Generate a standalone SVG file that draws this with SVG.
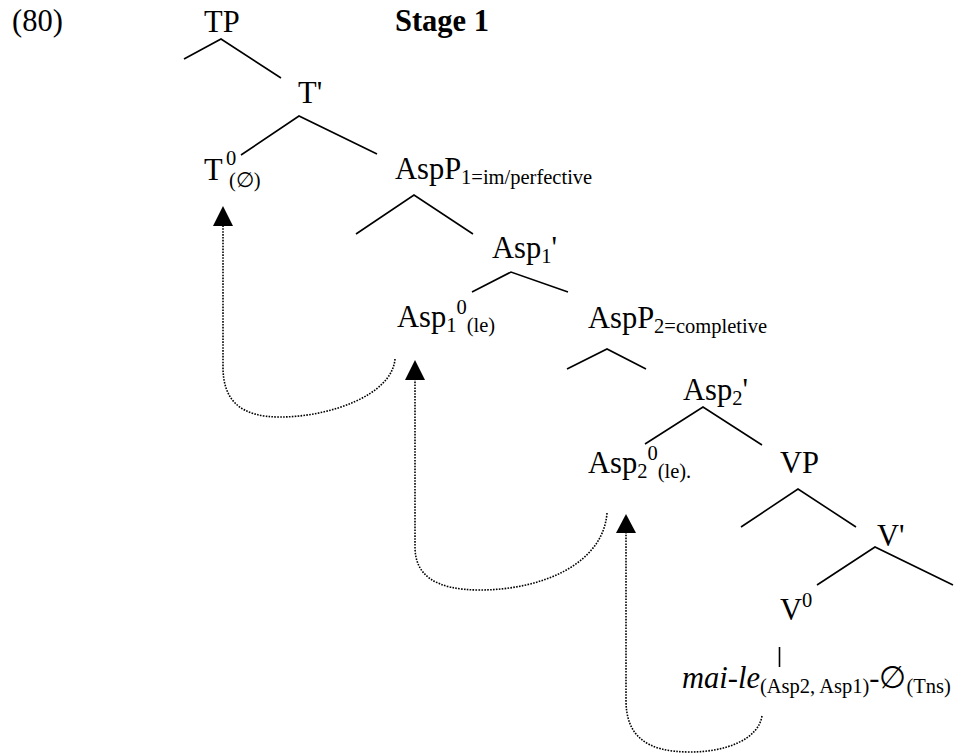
<svg xmlns="http://www.w3.org/2000/svg" width="969" height="754" viewBox="0 0 969 754">
  <style>
    text { font-family: "Liberation Serif", "Times New Roman", serif; font-size: 30.5px; fill: #000; }
    .b { font-weight: bold; }
    .it { font-style: italic; }
    .s { font-size: 20.5px; }
    .branch { fill: none; stroke: #000; stroke-width: 1.6; }
    .move { fill: none; stroke: #000; stroke-width: 1.6; stroke-dasharray: 1.6 1.3; }
    .head { fill: #000; }
  </style>
  <rect width="969" height="754" fill="#fff"/>

  <g id="example-number"><text x="12" y="31">(80)</text></g>
  <g id="title"><text class="b" x="395" y="31">Stage 1</text></g>

  <g id="TP"><text x="204" y="32">TP</text></g>
  <g id="T-bar"><text x="298" y="103">T'</text></g>
  <g id="T0">
    <text x="204" y="180">T</text>
    <text class="s" x="226" y="165">0</text>
    <text class="s" x="229" y="187">(∅)</text>
  </g>
  <g id="AspP1"><text x="395" y="179">AspP<tspan class="s" dy="5">1=im/perfective</tspan></text></g>
  <g id="Asp1-bar"><text x="492" y="258">Asp<tspan class="s" dy="5">1</tspan><tspan dy="-5">'</tspan></text></g>
  <g id="Asp1-0"><text x="397" y="327">Asp<tspan class="s" dy="5">1</tspan><tspan class="s" dy="-18">0</tspan><tspan class="s" dy="18">(le)</tspan></text></g>
  <g id="AspP2"><text x="588" y="328">AspP<tspan class="s" dy="5">2=completive</tspan></text></g>
  <g id="Asp2-bar"><text x="683" y="400">Asp<tspan class="s" dy="5">2</tspan><tspan dy="-5">'</tspan></text></g>
  <g id="Asp2-0"><text x="588" y="473">Asp<tspan class="s" dy="5">2</tspan><tspan class="s" dy="-18">0</tspan><tspan class="s" dy="18">(le).</tspan></text></g>
  <g id="VP"><text x="780" y="473">VP</text></g>
  <g id="V-bar"><text x="877" y="546">V'</text></g>
  <g id="V0"><text x="780" y="620">V<tspan class="s" dy="-13">0</tspan></text></g>
  <g id="verb"><text x="682" y="688"><tspan class="it">mai-le</tspan><tspan class="s" dy="5">(Asp2, Asp1)</tspan><tspan dy="-5">-∅</tspan><tspan class="s" dy="5">(Tns)</tspan></text></g>

  <g id="connectors">
    <!-- tree branches -->
    <polyline class="branch" points="184,59 221,39 281,78"/>
    <polyline class="branch" points="241,155 299,116 377,154"/>
    <polyline class="branch" points="356,234 414,195 473,234"/>
    <polyline class="branch" points="472,292 511,272 568,292"/>
    <polyline class="branch" points="567,369 607,349 646,369"/>
    <polyline class="branch" points="645,444 703,407 762,445"/>
    <polyline class="branch" points="741,527 798,489 856,527"/>
    <polyline class="branch" points="817,585 875,547 953,585"/>
    <line class="branch" x1="779.5" y1="647" x2="779.5" y2="667"/>

    <!-- head movement paths -->
    <path class="move" d="M395,359 C392,395 330,417 280,417 C240,417 223,400 223,367 V226"/>
    <path class="move" d="M607,513 C603,565 540,590 480,590 C435,590 415,575 415,547 V380"/>
    <path class="move" d="M762,716 C758,740 725,752 690,752 C645,752 626,735 626,700 V533"/>
    <polygon class="head" points="223,206 213,226 233,226"/>
    <polygon class="head" points="415,360 405,380 425,380"/>
    <polygon class="head" points="626,514 616,533 636,533"/>
  </g>
</svg>
